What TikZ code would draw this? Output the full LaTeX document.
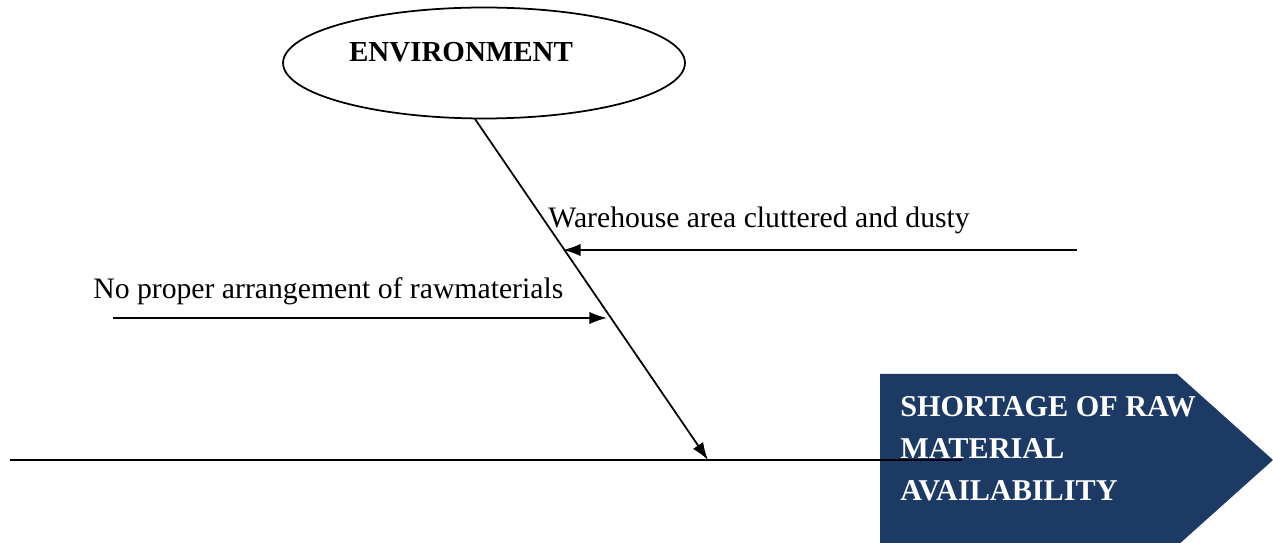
\documentclass[tikz,border=0pt]{standalone}
\usepackage{fontspec}
\setmainfont{Liberation Serif}
\usetikzlibrary{arrows.meta,shapes.geometric}
\definecolor{headblue}{RGB}{28,58,100}
\begin{document}
\begin{tikzpicture}[x=0.02cm,y=-0.02cm]
\tikzstyle{bone} = [draw=black, line width=1pt]
\tikzstyle{cause} = [draw=black, line width=1pt, -{Latex[length=10pt,width=7pt]}]
\tikzstyle{causetext} = [anchor=base west, inner sep=0pt, font=\fontsize{16.9}{20}\selectfont]
\tikzstyle{headtext} = [anchor=north west, inner sep=0pt, align=left, text=white, font=\bfseries\fontsize{17.2}{23.9}\selectfont]
\useasboundingbox (0,0) rectangle (1273,543);

\node[ellipse, draw=black, line width=1pt, minimum width=8.04cm, minimum height=2.22cm] (env) at (484,63) {};
\node[font=\bfseries\fontsize{16.5}{20}\selectfont] (envtext) at (461,52) {ENVIRONMENT};

\fill[headblue] (880,374) -- (1177,374) -- (1273,460) -- (1177,546) -- (880,546) -- cycle;
\node[headtext] (head) at (900,396) {SHORTAGE OF RAW\\MATERIAL\\AVAILABILITY};

\coordinate (tail) at (10,460);
\coordinate (spineend) at (962,460);
\coordinate (envfoot) at (475,119);
\coordinate (boneend) at (708,460);
\coordinate (c1start) at (1077,250);
\coordinate (c1end) at (563,250);
\coordinate (c2start) at (113,318);
\coordinate (c2end) at (607,318);

\draw[bone] (tail) -- (spineend);
\draw[cause] (envfoot) -- (boneend);
\draw[cause] (c1start) -- (c1end);
\draw[cause] (c2start) -- (c2end);

\node[causetext] (c1text) at (548,228) {Warehouse area cluttered and dusty};
\node[causetext] (c2text) at (93,299) {No proper arrangement of rawmaterials};
\end{tikzpicture}
\end{document}
